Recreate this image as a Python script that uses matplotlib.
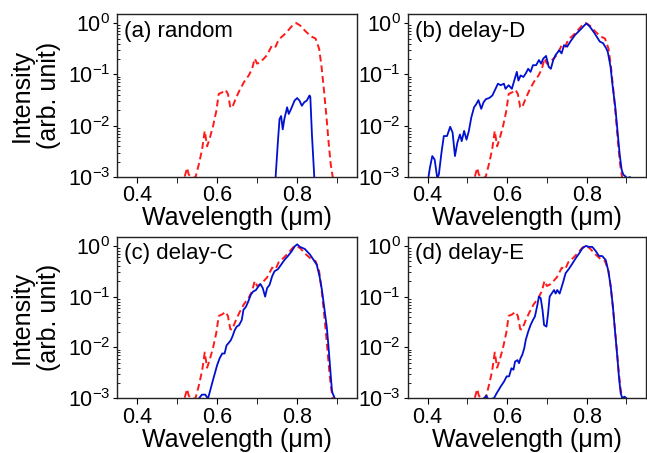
import numpy as np
import matplotlib
matplotlib.use('Agg')
import matplotlib.pyplot as plt
from matplotlib.ticker import MultipleLocator, LogLocator, NullFormatter

plt.rcParams['font.family'] = ['Liberation Sans', 'DejaVu Sans']
plt.rcParams['mathtext.fontset'] = 'custom'
plt.rcParams['mathtext.rm'] = 'Liberation Sans'
plt.rcParams['mathtext.it'] = 'Liberation Sans:italic'

# red dashed reference spectrum (same in every panel), log10 of intensity
red_wl = [0.519, 0.525, 0.529, 0.5375, 0.546, 0.554, 0.5625, 0.569, 0.575, 0.582,
          0.59, 0.598, 0.604, 0.6125, 0.621, 0.627, 0.633, 0.6375, 0.646, 0.656,
          0.667, 0.679, 0.6875, 0.694, 0.70, 0.708, 0.717, 0.725, 0.7375, 0.746,
          0.754, 0.767, 0.779, 0.79, 0.798, 0.808, 0.821, 0.835, 0.846, 0.855,
          0.861, 0.867, 0.873, 0.879, 0.884, 0.889]
red_log = [-2.99, -2.82, -2.95, -3.02, -3.0, -2.76, -2.46, -2.10, -2.40, -2.23,
           -2.0, -1.71, -1.38, -1.35, -1.30, -1.38, -1.64, -1.65, -1.48, -1.31,
           -1.15, -1.02, -0.89, -0.69, -0.79, -0.76, -0.69, -0.62, -0.43, -0.46,
           -0.32, -0.23, -0.13, -0.03, 0.0, -0.05, -0.16, -0.26, -0.30, -0.50,
           -0.85, -1.30, -1.80, -2.35, -2.75, -3.0]

# (a) random
a_wl = [0.746, 0.752, 0.756, 0.76, 0.764, 0.768, 0.775, 0.779, 0.785, 0.7935,
        0.80, 0.806, 0.8117, 0.818, 0.824, 0.831, 0.833, 0.837, 0.843]
a_log = [-3.02, -2.30, -1.87, -1.81, -2.07, -1.87, -1.64, -1.77, -1.67, -1.51,
         -1.46, -1.51, -1.61, -1.54, -1.51, -1.41, -1.44, -2.17, -3.02]

# (b) delay-D
b_wl = [0.402, 0.406, 0.412, 0.418, 0.4245, 0.4285, 0.435, 0.441, 0.449, 0.457,
        0.463, 0.469, 0.475, 0.4815, 0.486, 0.492, 0.498, 0.504, 0.51, 0.517,
        0.5225, 0.528, 0.535, 0.541, 0.547, 0.555, 0.563, 0.571, 0.577, 0.584,
        0.592, 0.596, 0.604, 0.612, 0.618, 0.6245, 0.6285, 0.634, 0.641, 0.647,
        0.653, 0.659, 0.665, 0.673, 0.68, 0.6855, 0.691, 0.698, 0.7045, 0.71,
        0.716, 0.722, 0.731, 0.737, 0.743, 0.751, 0.759, 0.771, 0.784, 0.796,
        0.80, 0.808, 0.82, 0.833, 0.841, 0.849, 0.853, 0.86, 0.865, 0.872,
        0.8775, 0.883, 0.888, 0.892, 0.898, 0.902, 0.9085]
b_log = [-3.02, -2.82, -2.59, -2.66, -3.02, -2.95, -2.53, -2.20, -2.20, -2.02,
         -2.13, -2.59, -2.33, -2.17, -2.30, -2.10, -2.27, -2.10, -1.84, -1.64,
         -1.58, -1.50, -1.67, -1.54, -1.48, -1.46, -1.41, -1.28, -1.18, -1.21,
         -1.18, -1.28, -1.21, -1.28, -1.12, -0.95, -1.12, -1.02, -1.05, -0.98,
         -0.89, -0.95, -0.82, -0.82, -0.72, -0.79, -0.69, -0.64, -0.85, -0.89,
         -0.72, -0.62, -0.53, -0.59, -0.43, -0.46, -0.36, -0.23, -0.13, -0.03,
         -0.01, -0.07, -0.20, -0.36, -0.39, -0.49, -0.56, -0.85, -1.21, -1.64,
         -2.10, -2.56, -2.86, -2.95, -2.99, -3.02, -3.0]

# (c) delay-C
c_wl = [0.554, 0.562, 0.5705, 0.577, 0.5806, 0.587, 0.594, 0.60, 0.606, 0.6127,
        0.6186, 0.6236, 0.628, 0.634, 0.638, 0.644, 0.649, 0.655, 0.6616, 0.6658,
        0.672, 0.6776, 0.6844, 0.69, 0.697, 0.703, 0.708, 0.714, 0.72, 0.725,
        0.731, 0.7375, 0.7434, 0.752, 0.76, 0.769, 0.777, 0.786, 0.794, 0.80,
        0.807, 0.819, 0.832, 0.8405, 0.849, 0.856, 0.862, 0.8675, 0.874, 0.8785,
        0.883, 0.887, 0.889, 0.893, 0.896]
c_log = [-3.01, -2.93, -2.93, -3.01, -2.91, -2.72, -2.52, -2.35, -2.22, -2.12,
         -2.12, -1.96, -1.92, -1.86, -1.79, -1.66, -1.59, -1.56, -1.46, -1.26,
         -1.20, -1.10, -0.96, -0.90, -0.87, -0.80, -0.75, -0.83, -1.0, -0.83,
         -0.77, -0.60, -0.50, -0.46, -0.37, -0.27, -0.20, -0.11, -0.01, 0.03,
         -0.02, -0.06, -0.17, -0.27, -0.37, -0.60, -0.87, -1.20, -1.59, -1.99,
         -2.45, -2.85, -2.91, -2.98, -3.05]

# (d) delay-E
d_wl = [0.542, 0.548, 0.553, 0.567, 0.574, 0.584, 0.5925, 0.599, 0.605, 0.611,
        0.616, 0.62, 0.626, 0.63, 0.634, 0.638, 0.643, 0.647, 0.653, 0.659,
        0.665, 0.67, 0.676, 0.68, 0.6845, 0.689, 0.693, 0.699, 0.703, 0.707,
        0.712, 0.718, 0.722, 0.726, 0.732, 0.736, 0.741, 0.747, 0.7556, 0.764,
        0.772, 0.781, 0.789, 0.798, 0.806, 0.814, 0.8226, 0.831, 0.839, 0.848,
        0.854, 0.86, 0.866, 0.871, 0.877, 0.881, 0.8854, 0.8895, 0.895, 0.90]
d_log = [-3.0, -2.95, -3.03, -3.0, -2.90, -2.77, -2.67, -2.57, -2.57, -2.41,
         -2.44, -2.28, -2.25, -2.31, -2.21, -2.15, -2.02, -1.85, -1.69, -1.56,
         -1.46, -1.39, -1.17, -1.0, -1.03, -1.26, -1.56, -1.59, -1.33, -1.0,
         -0.94, -0.87, -0.94, -0.87, -0.94, -0.84, -0.71, -0.54, -0.45, -0.35,
         -0.25, -0.15, -0.05, 0.0, -0.02, -0.02, -0.10, -0.20, -0.20, -0.28,
         -0.48, -0.77, -1.20, -1.66, -2.18, -2.57, -2.90, -3.0, -2.97, -3.0]

labels = ['(a) random', '(b) delay-D', '(c) delay-C', '(d) delay-E']
blue_wl = [a_wl, b_wl, c_wl, d_wl]
blue_log = [a_log, b_log, c_log, d_log]

fig = plt.figure(figsize=(6.47, 4.53), dpi=100)
rects = [[0.181, 0.609, 0.371, 0.360],
         [0.630, 0.609, 0.369, 0.360],
         [0.181, 0.121, 0.371, 0.356],
         [0.630, 0.121, 0.369, 0.356]]

for i, r in enumerate(rects):
    ax = fig.add_axes(r)
    ax.plot(red_wl, 10 ** np.array(red_log), color='#ff1a1a', ls=(0, (3.5, 2)), lw=1.4)
    ax.plot(blue_wl[i], 10 ** np.array(blue_log[i]), color='#0010d0', lw=1.3)
    ax.set_yscale('log')
    ax.set_xlim(0.35, 0.95)
    ax.set_ylim(1e-3, 1.5)
    ax.xaxis.set_major_locator(MultipleLocator(0.2))
    ax.xaxis.set_minor_locator(MultipleLocator(0.1))
    ax.yaxis.set_major_locator(LogLocator(base=10, numticks=10))
    ax.yaxis.set_minor_locator(LogLocator(base=10, subs=np.arange(2, 10), numticks=10))
    ax.yaxis.set_minor_formatter(NullFormatter())
    ax.tick_params(axis='x', which='both', direction='out', length=4, labelsize=15.5, pad=2)
    ax.tick_params(axis='y', which='major', direction='out', length=3, labelsize=15.5, pad=2)
    ax.tick_params(axis='y', which='minor', direction='in', length=2.5)
    for s in ax.spines.values():
        s.set_linewidth(1.0)
        s.set_color('#222222')
    ax.set_xlabel('Wavelength (\u03bcm)', fontsize=18, labelpad=0)
    if i % 2 == 0:
        ax.set_ylabel('Intensity\n(arb. unit)', fontsize=18, linespacing=1.15, labelpad=5)
    ax.text(0.03, 0.96, labels[i], transform=ax.transAxes, fontsize=16,
            ha='left', va='top')

fig.savefig('out.png', dpi=100)
